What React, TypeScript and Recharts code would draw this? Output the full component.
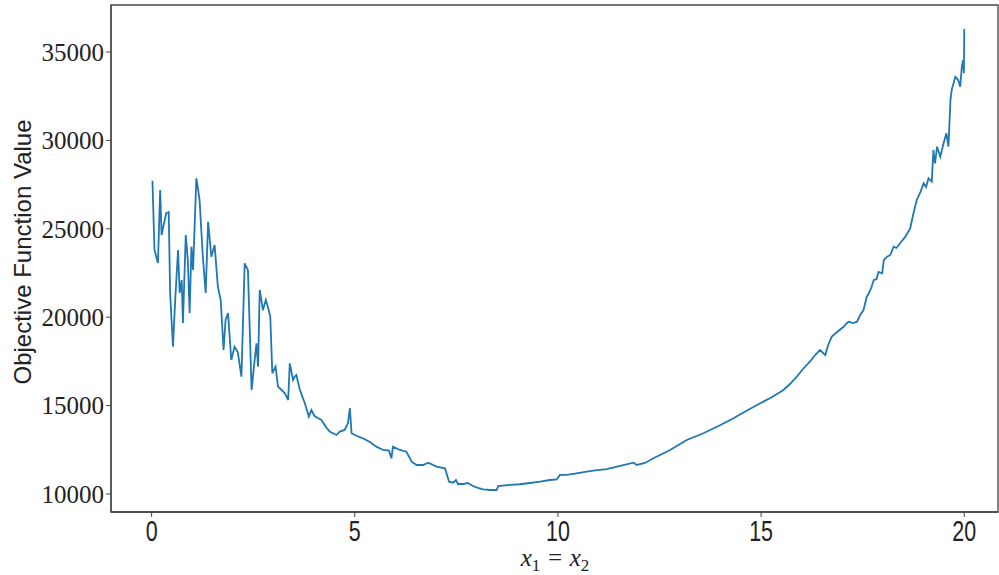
import React from 'react';
import { LineChart, Line, XAxis, YAxis, ReferenceArea } from 'recharts';

const xValues = [
  0.02, 0.07, 0.155, 0.21, 0.245, 0.295, 0.36, 0.42, 0.455, 0.525,
  0.58, 0.65, 0.69, 0.74, 0.77, 0.84, 0.89, 0.935, 0.98, 1.02,
  1.10, 1.145, 1.18, 1.26, 1.33, 1.39, 1.47, 1.55, 1.63, 1.70,
  1.77, 1.82, 1.88, 1.96, 2.04, 2.12, 2.21, 2.29, 2.37, 2.46,
  2.51, 2.58, 2.62, 2.66, 2.74, 2.81, 2.86, 2.92, 2.97, 3.05,
  3.11, 3.20, 3.28, 3.36, 3.40, 3.48, 3.52, 3.56, 3.65, 3.77,
  3.87, 3.93, 4.01, 4.10, 4.18, 4.29, 4.38, 4.55, 4.63, 4.75,
  4.83, 4.88, 4.92, 5.05, 5.20, 5.37, 5.53, 5.70, 5.84, 5.90,
  5.94, 6.11, 6.27, 6.40, 6.52, 6.68, 6.81, 7.01, 7.22, 7.32,
  7.42, 7.49, 7.54, 7.67, 7.78, 7.91, 8.03, 8.16, 8.33, 8.49,
  8.53, 8.82, 9.06, 9.31, 9.56, 9.80, 9.97, 10.05, 10.21, 10.46,
  10.67, 10.87, 11.20, 11.53, 11.86, 11.94, 12.14, 12.35, 12.76, 13.17,
  13.58, 14.0, 14.32, 14.63, 14.98, 15.27, 15.55, 15.71, 15.88, 16.03,
  16.2, 16.33, 16.45, 16.58, 16.65, 16.74, 16.9, 17.03, 17.09, 17.15,
  17.27, 17.36, 17.44, 17.52, 17.6, 17.65, 17.71, 17.77, 17.84, 17.89,
  17.98, 18.02, 18.1, 18.18, 18.26, 18.33, 18.42, 18.55, 18.67, 18.74,
  18.83, 18.92, 19.0, 19.06, 19.12, 19.2, 19.24, 19.28, 19.33, 19.41,
  19.49, 19.56, 19.61, 19.66, 19.69, 19.78, 19.85, 19.9, 19.94, 19.97,
  19.99, 20.0,
];

const objectiveValues = [
  27720, 23800, 23065, 27195, 24650, 25215, 25890, 25950, 21370, 18330,
  20970, 23800, 21370, 22100, 19670, 24650, 23235, 20240, 23990, 22670,
  27855, 27195, 26630, 23420, 21370, 25400, 23420, 24085, 21725, 20970,
  18145, 19840, 20240, 17580, 18330, 18030, 16635, 23050, 22670, 15880,
  17015, 18525, 17200, 21540, 20405, 20970, 20595, 20030, 16825, 17200,
  16070, 15880, 15695, 15315, 17390, 16450, 16635, 16730, 15880, 15130,
  14375, 14750, 14410, 14280, 14185, 13790, 13525, 13335, 13525, 13620,
  14000, 14850, 13435, 13280, 13150, 12940, 12675, 12490, 12450, 12020,
  12675, 12490, 12390, 11825, 11640, 11640, 11770, 11545, 11455, 10695,
  10640, 10790, 10565, 10565, 10620, 10450, 10340, 10265, 10225, 10225,
  10450, 10510, 10550, 10620, 10695, 10790, 10830, 11075, 11075, 11170,
  11245, 11320, 11400, 11585, 11770, 11640, 11755, 12020, 12490, 13055,
  13435, 13900, 14280, 14695, 15130, 15485, 15880, 16220, 16635, 17070,
  17480, 17860, 18145, 17860, 18430, 18900, 19220, 19460, 19615, 19745,
  19670, 19745, 20125, 20405, 21160, 21350, 21650, 22100, 22160, 22555,
  22480, 23235, 23420, 23520, 23990, 23915, 24180, 24555, 25030, 25780,
  26630, 27080, 27575, 27365, 27855, 27665, 29455, 28705, 29645, 29080,
  29835, 30400, 29645, 32285, 32850, 33600, 33415, 33035, 34170, 34545,
  33800, 36300,
];

const xTicks = [0, 5, 10, 15, 20];
const yTicks = [10000, 15000, 20000, 25000, 30000, 35000];
const xDomain: [number, number] = [-1, 20.83];
const yDomain: [number, number] = [8980, 37660];

const xLabelMain = 'x';
const yLabelText = 'Objective Function Value';

const data = xValues.map((x, i) => ({ x, y: objectiveValues[i] }));

const XLabel = () => (
  <text
    x={555}
    y={566}
    textAnchor="middle"
    fill="#222"
    fontFamily="'Liberation Serif', 'DejaVu Serif', serif"
    fontStyle="italic"
    fontSize={25}
  >
    {xLabelMain}
    <tspan fontSize={17} dy={5} fontStyle="normal">1</tspan>
    <tspan dy={-5}> = </tspan>
    {xLabelMain}
    <tspan fontSize={17} dy={5} fontStyle="normal">2</tspan>
  </text>
);

const YLabel = () => (
  <text
    x={31}
    y={252}
    transform="rotate(-90 31 252)"
    textAnchor="middle"
    fill="#222"
    fontFamily="'Liberation Sans', Arial, sans-serif"
    fontSize={24}
  >
    {yLabelText}
  </text>
);

const NarrowTick = (props: any) => {
  const { x, y, payload } = props;
  return (
    <g transform={`translate(${x},${y}) scale(0.74,1)`}>
      <text
        x={0}
        y={0}
        dy={22}
        textAnchor="middle"
        fill="#222"
        fontSize={29}
        fontFamily="'Liberation Sans', Arial, sans-serif"
      >
        {payload.value}
      </text>
    </g>
  );
};

export default function App() {
  return (
    <div style={{ position: 'absolute', left: 0, top: 0, width: 999, height: 575, background: '#fff' }}>
      <LineChart width={999} height={575} data={data} margin={{ top: 5, right: 1, bottom: 0, left: 0 }}>
        <XAxis
          type="number"
          dataKey="x"
          domain={xDomain}
          ticks={xTicks}
          allowDataOverflow
          height={63}
          tickSize={5}
          tickMargin={2}
          axisLine={{ stroke: '#444', strokeWidth: 1.3 }}
          tickLine={{ stroke: '#444' }}
          tick={<NarrowTick />}
          label={<XLabel />}
        />
        <YAxis
          type="number"
          domain={yDomain}
          ticks={yTicks}
          allowDataOverflow
          width={111}
          tickSize={5}
          tickMargin={2}
          axisLine={{ stroke: '#444', strokeWidth: 1.3 }}
          tickLine={{ stroke: '#444' }}
          tick={{ fill: '#222', fontSize: 25, fontFamily: "'Liberation Serif', serif" }}
          label={<YLabel />}
        />
        <ReferenceArea
          x1={xDomain[0]}
          x2={xDomain[1]}
          y1={yDomain[0]}
          y2={yDomain[1]}
          fill="none"
          stroke="#444"
          strokeWidth={1.3}
        />
        <Line
          type="linear"
          dataKey="y"
          stroke="#1f77b4"
          strokeWidth={1.8}
          dot={false}
          isAnimationActive={false}
        />
      </LineChart>
    </div>
  );
}
